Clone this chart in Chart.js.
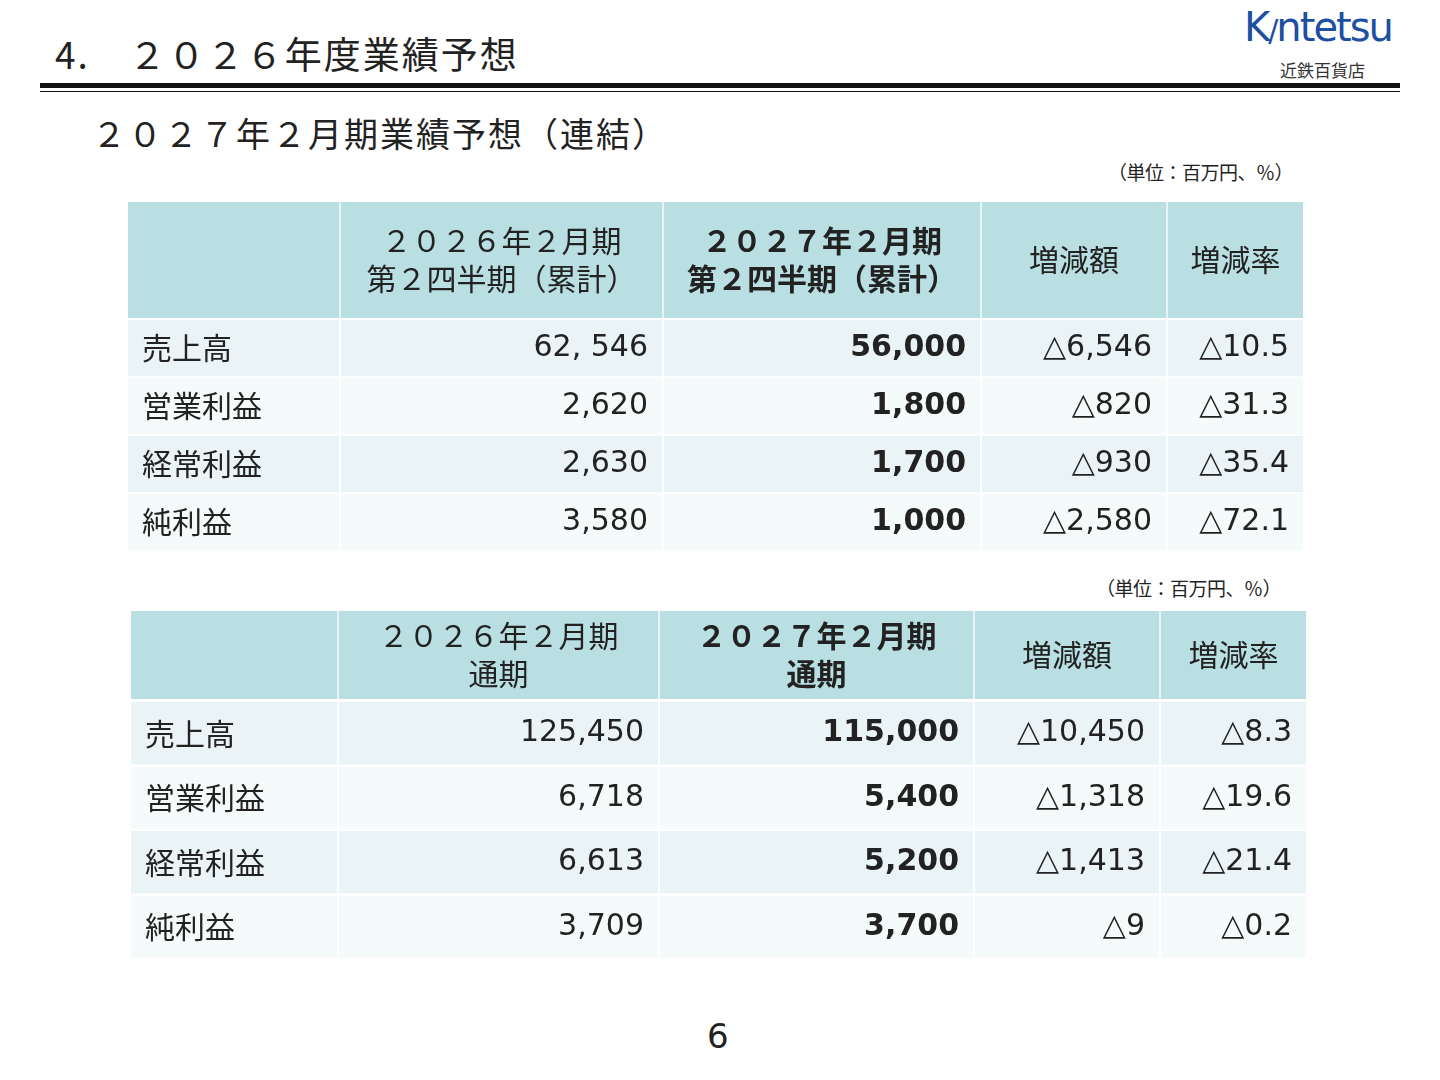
<!DOCTYPE html>
<html><head><meta charset="utf-8">
<script src="https://cdn.jsdelivr.net/npm/chart.js@4.4.0/dist/chart.umd.min.js"></script>
<style>
body{margin:0;width:1440px;height:1080px;background:#fff;position:relative;font-family:"Noto Sans CJK JP",sans-serif;color:#222;overflow:hidden}
.abs{position:absolute;white-space:nowrap}
canvas{position:absolute}
</style></head><body>
<div class="abs" style="left:55px;top:26px;font-size:37px;letter-spacing:2px">4.　２０２６年度業績予想</div>
<div class="abs" style="left:40px;top:83px;width:1360px;height:5px;background:#111"></div>
<div class="abs" style="left:40px;top:91px;width:1360px;height:1px;background:#111"></div>
<div class="abs" style="left:1244px;top:4px;font-family:'DejaVu Sans';font-size:40px;color:#1d4fa3;letter-spacing:-2px">K<span style="font-size:30px">/</span>ntetsu</div>
<div class="abs" style="left:1280px;top:57px;font-size:17px;color:#333">近鉄百貨店</div>
<div class="abs" style="left:92px;top:108px;font-size:34px;letter-spacing:2px">２０２７年２月期業績予想（連結）</div>
<div class="abs" style="left:1108px;top:158px;font-size:19px;letter-spacing:-0.5px">（単位：百万円、％）</div>
<div class="abs" style="left:1096px;top:574px;font-size:19px;letter-spacing:-0.5px">（単位：百万円、％）</div>
<div class="abs" style="left:707px;top:1016px;font-size:34px;font-family:'DejaVu Sans'">6</div>

<canvas id="h1" width="1175" height="116" style="left:128px;top:202px"></canvas>
<canvas id="b1" width="1175" height="232" style="left:128px;top:319px"></canvas>
<canvas id="h2" width="1175" height="88" style="left:131px;top:611px"></canvas>
<canvas id="b2" width="1175" height="258" style="left:131px;top:701px"></canvas>
<script>
// data
const rowNames = ['売上高','営業利益','経常利益','純利益'];
const q2Headers = ['', '２０２６年２月期\n第２四半期（累計）', '２０２７年２月期\n第２四半期（累計）', '増減額', '増減率'];
const q2Prev = ['62, 546','2,620','2,630','3,580'];
const q2Plan = ['56,000','1,800','1,700','1,000'];
const q2Diff = ['△6,546','△820','△930','△2,580'];
const q2Rate = ['△10.5','△31.3','△35.4','△72.1'];
const fyHeaders = ['', '２０２６年２月期\n通期', '２０２７年２月期\n通期', '増減額', '増減率'];
const fyPrev = ['125,450','6,718','6,613','3,709'];
const fyPlan = ['115,000','5,400','5,200','3,700'];
const fyDiff = ['△10,450','△1,318','△1,413','△9'];
const fyRate = ['△8.3','△19.6','△21.4','△0.2'];

// layout (column edges in px within each table)
const cols1 = [[0,211],[213,534],[536,852],[854,1038],[1040,1175]];
const cols2 = [[0,206],[208,527],[529,842],[844,1028],[1030,1175]];
const headColor = '#b9dfe3';
const rowColors = ['#eaf4f6','#f5fafb','#eaf4f6','#f5fafb'];
const jp = '"Noto Sans CJK JP"';
const boldCol = 2;

const textPlugin = {
  id:'cellText',
  afterDatasetsDraw(chart){
    const ctx = chart.ctx, o = chart.options.plugins.cellText;
    chart.data.datasets.forEach((ds,i)=>{
      chart.getDatasetMeta(i).data.forEach((bar,j)=>{
        const t = ds.texts[j]; if(!t) return;
        const left = Math.min(bar.x,bar.base), right = Math.max(bar.x,bar.base);
        ctx.save();
        ctx.fillStyle = '#222';
        ctx.textBaseline = 'middle';
        const bold = i===boldCol;
        const lines = String(t).split('\n');
        lines.forEach((ln,k)=>{
          const y = bar.y + (k-(lines.length-1)/2)*o.lineH;
          if(o.header){
            ctx.textAlign='center';
            ctx.font = (bold?'bold ':'')+o.size+'px '+jp;
            ctx.fillText(ln,(left+right)/2,y);
          } else if(i===0){
            ctx.textAlign='left';
            ctx.font = o.size+'px '+jp;
            ctx.fillText(ln,left+14,y);
          } else {
            ctx.textAlign='right';
            ctx.font = (bold?'bold ':'')+o.size+'px "DejaVu Sans", '+jp;
            ctx.fillText(ln,right-14,y);
          }
        });
        ctx.restore();
      });
    });
  }
};

function makeTable(id, cols, labels, columns, colors, header, pct, size, lineH){
  const datasets = cols.map((c,i)=>({
    data: labels.map(()=>[c[0],c[1]]),
    texts: columns[i],
    backgroundColor: colors,
    borderWidth:0,
    grouped:false,
    barPercentage:1,
    categoryPercentage:pct
  }));
  new Chart(document.getElementById(id),{
    type:'bar',
    data:{labels,datasets},
    options:{
      indexAxis:'y',responsive:false,animation:false,
      layout:{padding:0},
      scales:{x:{type:'linear',min:0,max:1175,display:false},y:{display:false}},
      plugins:{legend:{display:false},tooltip:{enabled:false},
        cellText:{header,size,lineH}}
    },
    plugins:[textPlugin]
  });
}

makeTable('h1',cols1,['h'],q2Headers.map(h=>[h]),[headColor],true,1,30,38);
makeTable('b1',cols1,rowNames,[rowNames,q2Prev,q2Plan,q2Diff,q2Rate],rowColors,false,0.97,30,0);
makeTable('h2',cols2,['h'],fyHeaders.map(h=>[h]),[headColor],true,1,30,38);
makeTable('b2',cols2,rowNames,[rowNames,fyPrev,fyPlan,fyDiff,fyRate],rowColors,false,0.97,30,0);
</script>
</body></html>
